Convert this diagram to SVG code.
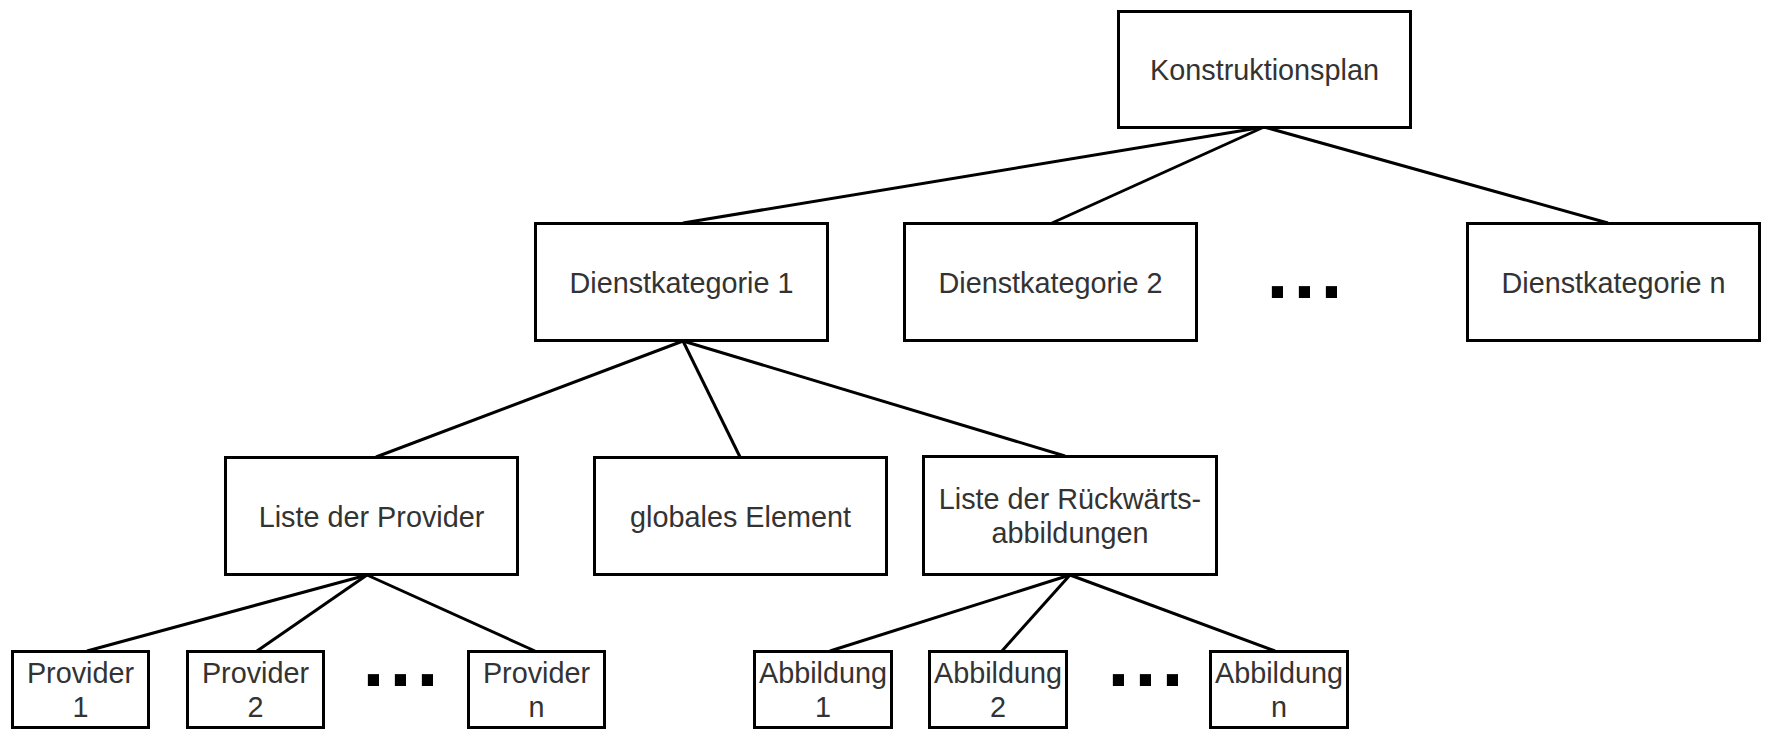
<svg xmlns="http://www.w3.org/2000/svg" width="1767" height="730" viewBox="0 0 1767 730">
  <style>
    .box { fill: #ffffff; stroke: #000000; stroke-width: 3; }
    .lbl { font-family: "Liberation Sans", Arial, Helvetica, sans-serif; font-size: 28.8px; fill: #333333; text-anchor: middle; }
    .dots { font-family: "Liberation Sans", Arial, sans-serif; font-weight: bold; font-size: 79px; fill: #000000; letter-spacing: 5px; }
    .edge { stroke: #000000; stroke-width: 3; fill: none; }
  </style>
  <rect width="1767" height="730" fill="#ffffff"/>

  <!-- tree edges -->
  <g id="connectors">
    <line class="edge" x1="1264" y1="127" x2="683" y2="223"/>
    <line class="edge" x1="1264" y1="127" x2="1052" y2="223"/>
    <line class="edge" x1="1264" y1="127" x2="1608" y2="223"/>
    <line class="edge" x1="683" y1="341" x2="376" y2="457"/>
    <line class="edge" x1="683" y1="341" x2="740" y2="457"/>
    <line class="edge" x1="683" y1="341" x2="1065" y2="456"/>
    <line class="edge" x1="367" y1="575" x2="87" y2="651"/>
    <line class="edge" x1="367" y1="575" x2="257" y2="651"/>
    <line class="edge" x1="367" y1="575" x2="535" y2="651"/>
    <line class="edge" x1="1070" y1="575" x2="830" y2="651"/>
    <line class="edge" x1="1070" y1="575" x2="1002" y2="651"/>
    <line class="edge" x1="1070" y1="575" x2="1275" y2="651"/>
  </g>

  <g id="konstruktionsplan">
    <rect class="box" x="1118.5" y="11.5" width="292" height="116"/>
    <text class="lbl" x="1264.5" y="80">Konstruktionsplan</text>
  </g>

  <g id="dienstkategorie-1">
    <rect class="box" x="535.5" y="223.5" width="292" height="117"/>
    <text class="lbl" x="681.5" y="293">Dienstkategorie 1</text>
  </g>
  <g id="dienstkategorie-2">
    <rect class="box" x="904.5" y="223.5" width="292" height="117"/>
    <text class="lbl" x="1050.5" y="293">Dienstkategorie 2</text>
  </g>
  <text class="dots" x="1266.5" y="298">...</text>
  <g id="dienstkategorie-n">
    <rect class="box" x="1467.5" y="223.5" width="292" height="117"/>
    <text class="lbl" x="1613.5" y="293">Dienstkategorie n</text>
  </g>

  <g id="liste-provider">
    <rect class="box" x="225.5" y="457.5" width="292" height="117"/>
    <text class="lbl" x="371.5" y="527">Liste der Provider</text>
  </g>
  <g id="globales-element">
    <rect class="box" x="594.5" y="457.5" width="292" height="117"/>
    <text class="lbl" x="740.5" y="527">globales Element</text>
  </g>
  <g id="liste-rueckwaertsabbildungen">
    <rect class="box" x="923.5" y="456.5" width="293" height="118"/>
    <text class="lbl" x="1070" y="509">Liste der Rückwärts-</text>
    <text class="lbl" x="1070" y="543">abbildungen</text>
  </g>

  <g id="provider-1">
    <rect class="box" x="12.5" y="651.5" width="136" height="76"/>
    <text class="lbl" x="80.5" y="683">Provider</text>
    <text class="lbl" x="80.5" y="717">1</text>
  </g>
  <g id="provider-2">
    <rect class="box" x="187.5" y="651.5" width="136" height="76"/>
    <text class="lbl" x="255.5" y="683">Provider</text>
    <text class="lbl" x="255.5" y="717">2</text>
  </g>
  <text class="dots" x="362.5" y="686">...</text>
  <g id="provider-n">
    <rect class="box" x="468.5" y="651.5" width="136" height="76"/>
    <text class="lbl" x="536.5" y="683">Provider</text>
    <text class="lbl" x="536.5" y="717">n</text>
  </g>

  <g id="abbildung-1">
    <rect class="box" x="754.5" y="651.5" width="137" height="76"/>
    <text class="lbl" x="823" y="683">Abbildung</text>
    <text class="lbl" x="823" y="717">1</text>
  </g>
  <g id="abbildung-2">
    <rect class="box" x="929.5" y="651.5" width="137" height="76"/>
    <text class="lbl" x="998" y="683">Abbildung</text>
    <text class="lbl" x="998" y="717">2</text>
  </g>
  <text class="dots" x="1107.5" y="686">...</text>
  <g id="abbildung-n">
    <rect class="box" x="1210.5" y="651.5" width="137" height="76"/>
    <text class="lbl" x="1279" y="683">Abbildung</text>
    <text class="lbl" x="1279" y="717">n</text>
  </g>
</svg>
